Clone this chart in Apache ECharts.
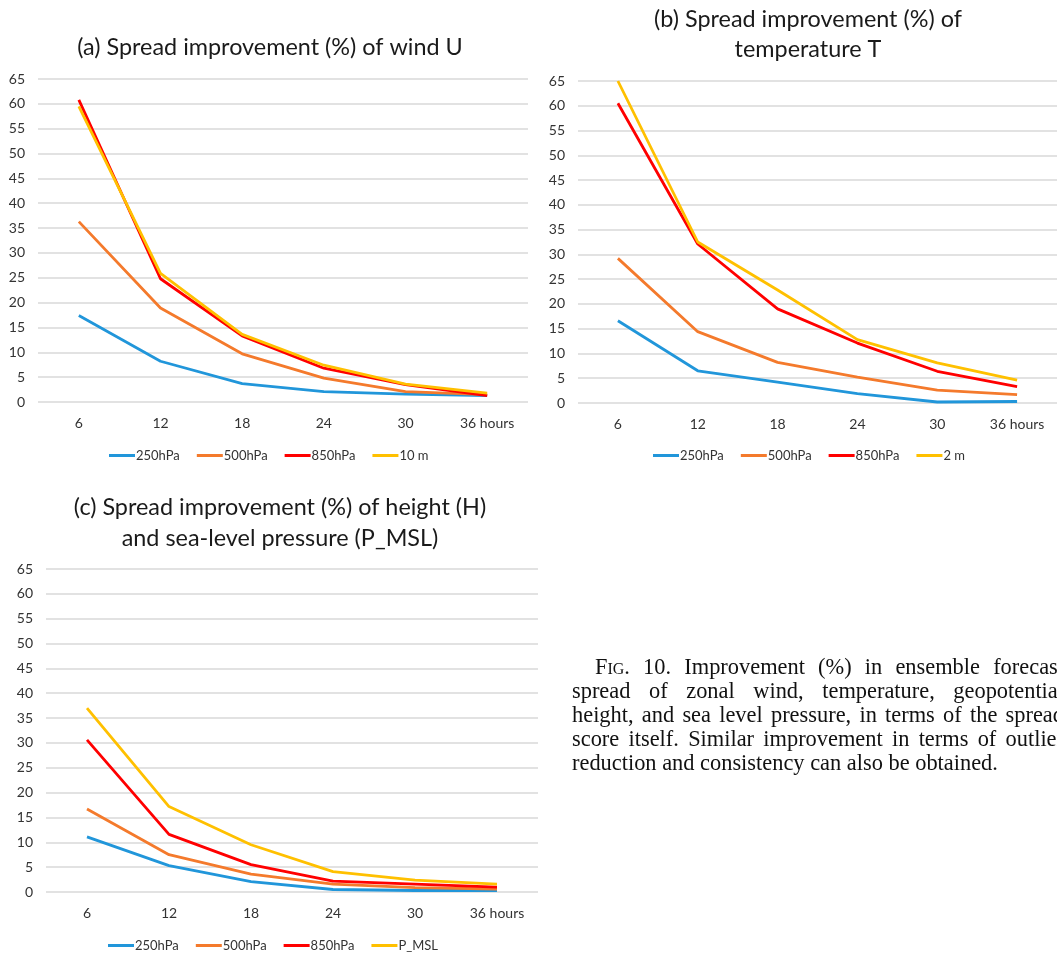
<!DOCTYPE html>
<html>
<head>
<meta charset="utf-8">
<script src="https://cdn.jsdelivr.net/npm/echarts@6/dist/echarts.min.js"></script>
<style>
  html, body { margin: 0; padding: 0; background: #fff; overflow: hidden; }
  #chart { position: absolute; left: 0; top: 0; width: 1057px; height: 953px; }
  #caption { position: absolute; left: 572px; top: 655px; width: 492px;
    font-family: "Liberation Serif", "DejaVu Serif", serif; font-size: 22.4px; color: #111; line-height: 24px; }
  #caption div { text-align: justify; text-align-last: justify; white-space: nowrap; }
  #caption div.last { text-align-last: left; }
  .sc { font-variant: small-caps; }
</style>
</head>
<body>
<div id="chart"></div>
<div id="caption">
  <div style="padding-left:23px">F<span class="sc">ig</span>. 10. Improvement (%) in ensemble forecast</div>
  <div>spread of zonal wind, temperature, geopotential</div>
  <div>height, and sea level pressure, in terms of the spread</div>
  <div>score itself. Similar improvement in terms of outlier</div>
  <div class="last">reduction and consistency can also be obtained.</div>
</div>
<script>
// ---- data ----
const hours = ['6', '12', '18', '24', '30', '36 hours'];
const yTicks = [0, 5, 10, 15, 20, 25, 30, 35, 40, 45, 50, 55, 60, 65];

const titleA = ['(a) Spread improvement (%) of wind U'];
const titleB = ['(b) Spread improvement (%) of', 'temperature T'];
const titleC = ['(c) Spread improvement (%) of height (H)', 'and sea-level pressure (P_MSL)'];

const namesA = ['250hPa', '500hPa', '850hPa', '10 m'];
const namesB = ['250hPa', '500hPa', '850hPa', '2 m'];
const namesC = ['250hPa', '500hPa', '850hPa', 'P_MSL'];

// (a) wind U
const a250 = [17.4, 8.2, 3.7, 2.1, 1.6, 1.3];
const a500 = [36.3, 18.9, 9.7, 4.8, 2.1, 1.5];
const a850 = [60.8, 24.8, 13.3, 6.8, 3.5, 1.3];
const a10m = [59.5, 25.9, 13.6, 7.4, 3.6, 1.8];

// (b) temperature T
const b250 = [16.6, 6.5, 4.2, 1.9, 0.2, 0.3];
const b500 = [29.2, 14.4, 8.2, 5.2, 2.6, 1.7];
const b850 = [60.5, 32.1, 19.0, 12.1, 6.4, 3.3];
const b2m  = [65.0, 32.5, 22.8, 12.8, 8.1, 4.6];

// (c) height H and P_MSL
const c250 = [11.1, 5.3, 2.1, 0.5, 0.3, 0.3];
const c500 = [16.7, 7.5, 3.6, 1.6, 0.9, 0.6];
const c850 = [30.6, 11.6, 5.5, 2.2, 1.6, 1.0];
const cMSL = [37.0, 17.2, 9.5, 4.1, 2.4, 1.6];

// ---- style ----
const colors = ['#2196DA', '#F47A2C', '#FF0000', '#FFC000'];
const FONT = 'Lato, "Open Sans", sans-serif';

const grids = [
  { left: 38, top: 79, width: 490, height: 323 },
  { left: 578, top: 81, width: 486, height: 322 },
  { left: 46, top: 569, width: 492, height: 323 }
];

const chart = echarts.init(document.getElementById('chart'), null, { renderer: 'canvas' });

function xAxis(i) {
  return {
    type: 'category', gridIndex: i, data: hours, boundaryGap: true,
    axisLine: { show: false }, axisTick: { show: false },
    axisLabel: { color: '#333', fontFamily: FONT, fontSize: 14, margin: 14 }
  };
}
function yAxis(i) {
  return {
    type: 'value', gridIndex: i, min: yTicks[0], max: yTicks[yTicks.length - 1], interval: yTicks[1] - yTicks[0],
    axisLine: { show: false }, axisTick: { show: false },
    axisLabel: { color: '#333', fontFamily: FONT, fontSize: 14, margin: 13 },
    splitLine: { lineStyle: { color: '#D9D9D9', width: 1.5 } }
  };
}
function lines(i, names, arrays) {
  return arrays.map((d, k) => ({
    type: 'line', name: names[k], xAxisIndex: i, yAxisIndex: i, data: d,
    symbol: 'none', lineStyle: { width: 2.8, color: colors[k] }, itemStyle: { color: colors[k] },
    z: 2 + k, silent: true, animation: false
  }));
}
function legend(names, left, top) {
  return {
    data: names, left: left, top: top, orient: 'horizontal',
    icon: 'rect', itemWidth: 26, itemHeight: 3, itemGap: 17,
    textStyle: { fontFamily: FONT, fontSize: 13, color: '#333', padding: [0, 0, 0, -4] },
    selectedMode: false
  };
}
function titleTexts(lines_, cx, y0, dy) {
  return lines_.map((t, k) => ({
    type: 'text', x: cx, y: y0 + k * dy,
    style: { text: t, fontFamily: FONT, fontSize: 23.4, fill: '#1a1a1a', align: 'center', verticalAlign: 'middle' }
  }));
}

chart.setOption({
  animation: false,
  grid: grids,
  xAxis: [xAxis(0), xAxis(1), xAxis(2)],
  yAxis: [yAxis(0), yAxis(1), yAxis(2)],
  legend: [legend(namesA, 104, 444), legend(namesB, 648, 444), legend(namesC, 103, 934)],
  graphic: [].concat(
    titleTexts(titleA, 270, 47, 0),
    titleTexts(titleB, 808, 19, 30),
    titleTexts(titleC, 280, 507, 31)
  ),
  series: [].concat(
    lines(0, namesA, [a250, a500, a850, a10m]),
    lines(1, namesB, [b250, b500, b850, b2m]),
    lines(2, namesC, [c250, c500, c850, cMSL])
  )
});
</script>
</body>
</html>
